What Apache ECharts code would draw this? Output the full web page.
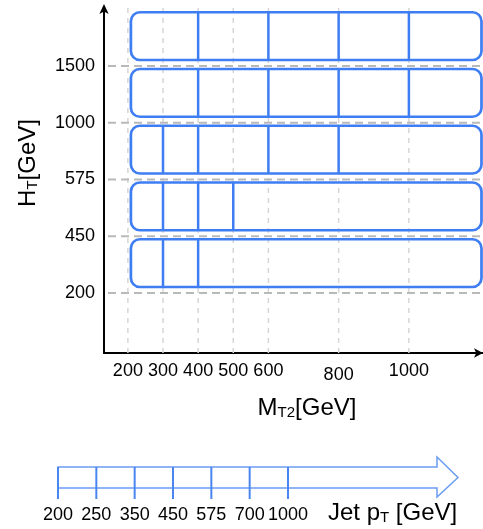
<!DOCTYPE html>
<html><head><meta charset="utf-8">
<script src="https://cdn.jsdelivr.net/npm/echarts@6/dist/echarts.min.js"></script>
<style>html,body{margin:0;padding:0;background:#fff}#c{width:483px;height:529px}</style>
</head><body><div id="c"></div>
<script>
// ---- data ----
const htEdges = ['200', '450', '575', '1000', '1500'];      // H_T bin edges (y tick labels)
const mt2Ticks = [200, 300, 400, 500, 600, 800, 1000];       // M_T2 tick labels
const mt2Start = 200;                                         // lowest M_T2 edge
const mt2Row0 = [300, 400];                // H_T 200-450
const mt2Row1 = [300, 400, 500];           // H_T 450-575
const mt2Row2 = [300, 400, 600, 800];      // H_T 575-1000
const mt2Row3 = [400, 600, 800, 1000];     // H_T 1000-1500
const mt2Row4 = [400, 600, 800, 1000];     // H_T > 1500
const mt2Rows = [mt2Row0, mt2Row1, mt2Row2, mt2Row3, mt2Row4];
const jetPtEdges = ['200', '250', '350', '450', '575', '700', '1000'];

// ---- styles ----
const FONT = 'Liberation Sans, Arial, Helvetica, sans-serif';
const BLUE = '#3f7ef2';
const ARROW_BLUE = '#6b9df3';
const TICK_BLUE = '#4a86f1';

const chart = echarts.init(document.getElementById('c'), null, {renderer: 'canvas'});

const subStyle = {fontSize: 15, fontFamily: FONT, color: '#000', verticalAlign: 'bottom', padding: [16, 0, 0, 0], lineHeight: 15};

chart.setOption({
  animation: false,
  backgroundColor: '#fff',
  textStyle: {fontFamily: FONT},
  grid: [
    {left: 104, right: 0, top: 8, bottom: 176, containLabel: false},
    {left: 58, right: 25, top: 467, bottom: 41, containLabel: false}
  ],
  xAxis: [
    {
      type: 'value', gridIndex: 0, min: 132, max: 1211,
      axisLine: {show: true, onZero: false, lineStyle: {color: '#000', width: 2}, symbol: ['none', 'arrow'], symbolSize: [7, 9]},
      axisTick: {show: false},
      splitLine: {show: false},
      axisLabel: {
        customValues: mt2Ticks, margin: 9, fontSize: 18, color: '#000', fontFamily: FONT,
        formatter: v => v === 800 ? '{low|' + v + '}' : String(v),
        rich: {low: {fontSize: 18, fontFamily: FONT, color: '#000', padding: [4, 0, 0, 0]}}
      },
      name: 'M{sub|T2}[GeV]', nameLocation: 'middle', nameGap: 28,
      nameTextStyle: {fontSize: 24, color: '#000', fontFamily: FONT, padding: [0, 0, 0, 27], rich: {sub: subStyle}}
    },
    {
      type: 'value', gridIndex: 1, min: 0, max: 10.435,
      axisLine: {show: false, onZero: false}, axisTick: {show: false}, splitLine: {show: false},
      axisLabel: {
        customValues: jetPtEdges.map((_, i) => i), margin: 18, fontSize: 18, color: '#000', fontFamily: FONT,
        formatter: v => jetPtEdges[v]
      }
    }
  ],
  yAxis: [
    {
      type: 'value', gridIndex: 0, min: -1.057, max: 5.022,
      axisLine: {show: true, onZero: false, lineStyle: {color: '#000', width: 2}, symbol: ['none', 'arrow'], symbolSize: [7, 10], symbolOffset: [0, 4]},
      axisTick: {show: false},
      splitLine: {show: false},
      axisLabel: {
        customValues: htEdges.map((_, i) => i), margin: 9, fontSize: 18, color: '#000', fontFamily: FONT,
        formatter: v => htEdges[v]
      },
      name: 'H{sub|T}[GeV]', nameLocation: 'middle', nameGap: 64,
      nameTextStyle: {fontSize: 24, color: '#000', fontFamily: FONT, padding: [0, 0, 0, 35], rich: {sub: subStyle}}
    },
    {type: 'value', gridIndex: 1, min: 0, max: 1, show: false}
  ],
  graphic: [
    {
      type: 'text', left: 328, top: 496,
      style: {
        text: 'Jet p{sub|T} [GeV]', fontSize: 24, fontFamily: FONT, fill: '#000',
        rich: {sub: {fontSize: 15, fontFamily: FONT, fill: '#000', verticalAlign: 'bottom', padding: [14, 0, 0, 0], lineHeight: 15}}
      }
    }
  ],
  series: [
    { // vertical dashed guide lines at M_T2 ticks
      type: 'custom', xAxisIndex: 0, yAxisIndex: 0, z: 1, silent: true,
      data: mt2Ticks.map(v => [v]),
      renderItem(params, api) {
        const cs = params.coordSys;
        const x = api.coord([api.value(0), 0])[0];
        return {type: 'line', shape: {x1: x, y1: cs.y, x2: x, y2: cs.y + cs.height},
          style: {stroke: '#d6d6d6', lineWidth: 1.5, lineDash: [5, 5]}};
      }
    },
    { // horizontal dashed guide lines at H_T edges
      type: 'custom', xAxisIndex: 0, yAxisIndex: 0, z: 1, silent: true,
      data: htEdges.map((_, i) => [i]),
      renderItem(params, api) {
        const cs = params.coordSys;
        const y = api.coord([mt2Start, api.value(0)])[1];
        return {type: 'line', shape: {x1: cs.x + 4, y1: y, x2: cs.x + cs.width, y2: y},
          style: {stroke: '#b9b9b9', lineWidth: 2, lineDash: [8, 5]}};
      }
    },
    { // search-region boxes with M_T2 bin edges
      type: 'custom', xAxisIndex: 0, yAxisIndex: 0, z: 3, silent: true,
      data: mt2Rows.map((_, i) => [i]),
      renderItem(params, api) {
        const i = api.value(0);
        const cs = params.coordSys;
        const yb = api.coord([mt2Start, i])[1] - 6;
        const yt = api.coord([mt2Start, i + 1])[1] + 3;
        const xl = api.coord([mt2Start, i])[0] + 3;
        const xr = cs.x + cs.width - 1.5;
        const children = [{type: 'rect', shape: {x: xl, y: yt, width: xr - xl, height: yb - yt, r: 9},
          style: {fill: 'none', stroke: BLUE, lineWidth: 2.7}}];
        mt2Rows[i].forEach(e => {
          const x = api.coord([e, i])[0];
          children.push({type: 'line', shape: {x1: x, y1: yt, x2: x, y2: yb}, style: {stroke: BLUE, lineWidth: 2.5}});
        });
        return {type: 'group', children};
      }
    },
    { // jet pT arrow
      type: 'custom', xAxisIndex: 1, yAxisIndex: 1, z: 3, silent: true,
      data: [[0]],
      renderItem(params, api) {
        const cs = params.coordSys;
        const x0 = api.coord([api.value(0), 0])[0];
        const yT = cs.y, yB = cs.y + cs.height, yM = (yT + yB) / 2;
        const tip = cs.x + cs.width, hs = tip - 21;
        return {type: 'polygon', shape: {points: [[x0, yT], [hs, yT], [hs, yT - 10], [tip, yM], [hs, yB + 9], [hs, yB], [x0, yB]]},
          style: {fill: 'none', stroke: ARROW_BLUE, lineWidth: 1.5}};
      }
    },
    { // jet pT bin edges
      type: 'custom', xAxisIndex: 1, yAxisIndex: 1, z: 4, silent: true,
      data: jetPtEdges.map((_, i) => [i]),
      renderItem(params, api) {
        const cs = params.coordSys;
        const x = api.coord([api.value(0), 0])[0];
        return {type: 'line', shape: {x1: x, y1: cs.y, x2: x, y2: cs.y + cs.height + 11},
          style: {stroke: TICK_BLUE, lineWidth: 2}};
      }
    }
  ]
});
</script>
</body></html>
